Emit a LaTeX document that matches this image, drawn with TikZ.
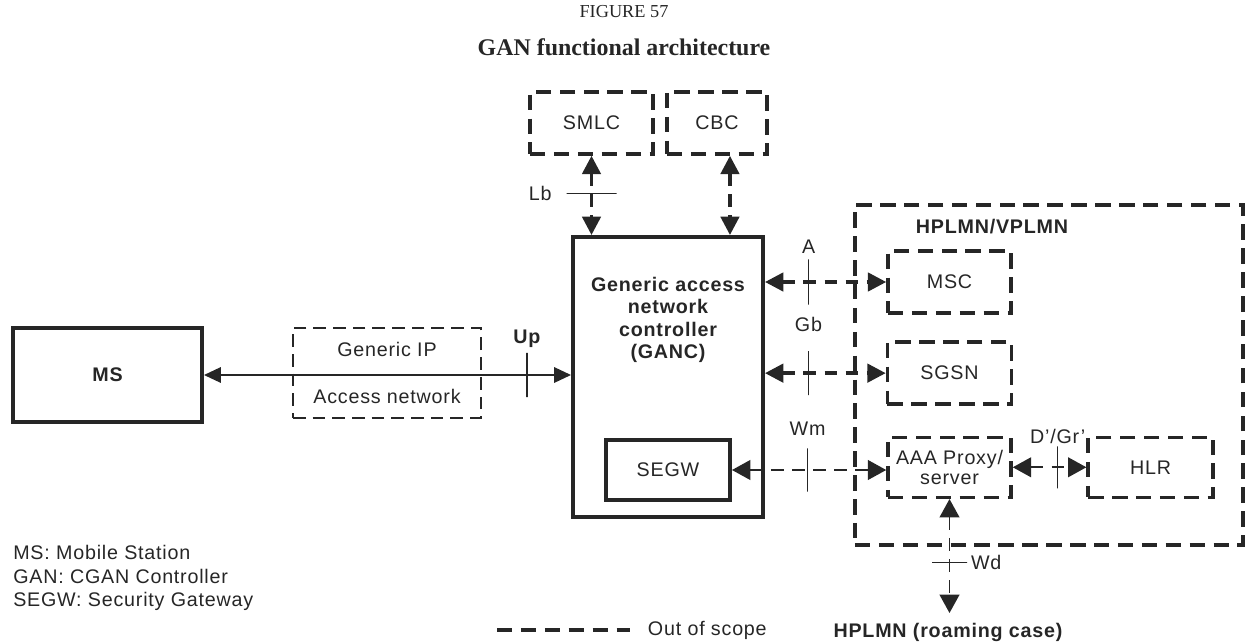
\documentclass[tikz,border=0pt]{standalone}
\usepackage{fontspec}
\setmainfont{Liberation Serif}
\setsansfont{Liberation Sans}[LetterSpace=4]
\usepackage{tikz}
\usetikzlibrary{arrows.meta}
\usetikzlibrary{positioning}
\colorlet{ink}{black!85}

\begin{document}
\begin{tikzpicture}[
x=0.025cm, y=-0.025cm,
every node/.style={font=\sffamily\fontsize{14}{16}\selectfont, text=ink},
boldtxt/.style={font=\sffamily\bfseries\fontsize{14}{16}\selectfont},
solidbox/.style={rectangle, draw=ink, line width=2.8pt, inner sep=0},
oosbox/.style={rectangle, draw=ink, line width=2.5pt, dash pattern=on 11pt off 6pt, inner sep=0},
thinbox/.style={rectangle, draw=ink, line width=1.8pt, dash pattern=on 9pt off 5pt, inner sep=0},
oosline/.style={draw=ink, line width=2.5pt, dash pattern=on 9pt off 6pt, {Triangle[length=13pt,width=13pt]}-{Triangle[length=13pt,width=13pt]}},
thinline/.style={draw=ink, line width=1.2pt, dash pattern=on 9pt off 6pt, {Triangle[length=13pt,width=14pt]}-{Triangle[length=13pt,width=14pt]}},
plainline/.style={draw=ink, line width=1.2pt, {Triangle[length=12pt,width=11pt]}-{Triangle[length=12pt,width=11pt]}},
cutv/.style={draw=ink, solid, line width=0.8pt, minimum width=0pt, minimum height=#1, inner sep=0, outer sep=0},
cuth/.style={draw=ink, solid, line width=0.8pt, minimum height=0pt, minimum width=#1, inner sep=0, outer sep=0}
]
\useasboundingbox (0,0) rectangle (1249,643);
% heading
\node[font=\rmfamily\fontsize{13}{15}\selectfont] (fig) at (624,12) {FIGURE 57};
\node[font=\rmfamily\bfseries\fontsize{17}{19}\selectfont] (title) at (624,47) {GAN functional architecture};
% left part
\node[solidbox, boldtxt, minimum width=4.725cm, minimum height=2.35cm] (ms) at (107.5,375) {MS};
\node[thinbox, align=center, font=\sffamily\fontsize{14}{33}\selectfont, minimum width=4.7cm, minimum height=2.25cm] (genip) at (387,373) {Generic IP\\Access network};
% controller
\node[oosbox, minimum width=3.075cm, minimum height=1.55cm] (smlc) at (591.5,123) {SMLC};
\node[oosbox, minimum width=2.5cm, minimum height=1.55cm, right=0.26cm of smlc] (cbc) {CBC};
\node[solidbox, minimum width=4.75cm, minimum height=7cm] (ganc) at (668,377) {};
\node[align=center, font=\sffamily\bfseries\fontsize{14}{15.8}\selectfont] (gancname) at (668,320) {Generic access\\network\\controller\\(GANC)};
\node[solidbox, minimum width=3.1cm, minimum height=1.5cm] (segw) at (668,470) {SEGW};
% home network
\node[oosbox, minimum width=9.7cm, minimum height=8.5cm] (plmn) at (1049,375) {};
\node[boldtxt] (plmnname) at (992,227) {HPLMN/VPLMN};
\node[oosbox, minimum width=3.075cm, minimum height=1.55cm] (msc) at (949.5,282) {MSC};
\node[oosbox, minimum width=3.1cm, minimum height=1.55cm, below=0.64cm of msc] (sgsn) {SGSN};
\node[oosbox, align=center, font=\sffamily\fontsize{14}{14.5}\selectfont, minimum width=3.075cm, minimum height=1.5cm, below=0.74cm of sgsn] (aaa) {AAA Proxy/\\server};
\node[oosbox, minimum width=3.125cm, minimum height=1.5cm, right=1.84cm of aaa] (hlr) {HLR};
\node[boldtxt, below, inner sep=7pt] (roam) at (948,613) {HPLMN (roaming case)};
% interfaces
\draw[plainline] (ms.east) -- (ms.east -| ganc.west) node[cutv=1.1cm, pos=0.88, label={[boldtxt]above:Up}] {};
\draw[oosline] (smlc.south) -- (smlc.south |- ganc.north) node[cuth=1.25cm, pos=0.48, label={[label distance=6pt]left:Lb}] {};
\draw[oosline] ([xshift=0.325cm]cbc.south) -- ([xshift=0.325cm]cbc.south |- ganc.north);
\draw[oosline] (msc.west -| ganc.east) -- (msc.west) node[cutv=1.125cm, pos=0.36, label=above:A] {};
\draw[oosline] (sgsn.west -| ganc.east) -- (sgsn.west) node[cutv=1.1cm, pos=0.36, label={[label distance=9pt]above:Gb}] {};
\draw[thinline] (segw.east) -- (segw.east -| aaa.west) node[cutv=1.075cm, pos=0.49, label={[label distance=5pt]above:Wm}] {};
\draw[thinline] (aaa.east) -- (hlr.west) node[cutv=1.05cm, pos=0.61, label={[label distance=-2pt]above:D’/Gr’}] {};
\draw[thinline] (aaa.south) -- (aaa.south |- roam.north) node[cuth=0.875cm, pos=0.56, label={[label distance=-1pt]right:Wd}] {};
% legend
\node[anchor=west, align=left, inner sep=0, font=\sffamily\fontsize{14}{16.5}\selectfont] (legend) at (13,578) {MS: Mobile Station\\GAN: CGAN Controller\\SEGW: Security Gateway};
\node[right] (oos) at (643,630) {Out of scope};
\coordinate (oosstart) at (497,630);
\draw[draw=ink, line width=2.5pt, dash pattern=on 11pt off 6pt, shorten >=9pt] (oosstart) -- (oos.west);
\end{tikzpicture}
\end{document}
